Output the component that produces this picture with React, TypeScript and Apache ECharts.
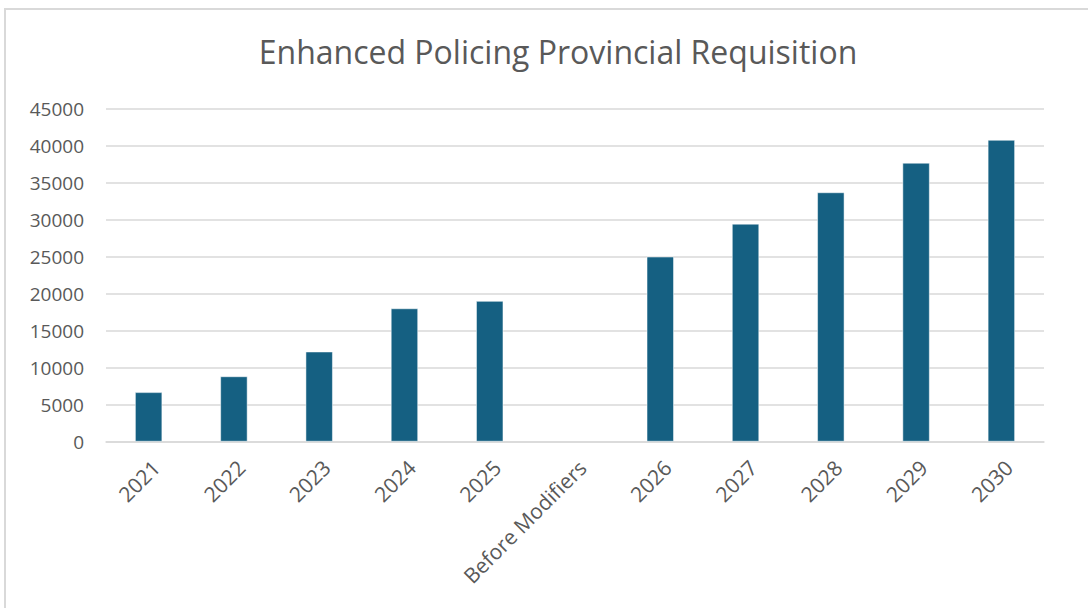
import React, { useEffect, useRef } from "react";
import * as echarts from "echarts";

const titleText = "Enhanced Policing Provincial Requisition";
const categories = ["2021", "2022", "2023", "2024", "2025", "Before Modifiers", "2026", "2027", "2028", "2029", "2030"];
const values: (number | null)[] = [6650, 8800, 12150, 18000, 19000, null, 25000, 29450, 33700, 37700, 40800];
const yMin = 0;
const yMax = 45000;
const yStep = 5000;

export default function App() {
  const ref = useRef<HTMLDivElement>(null);
  useEffect(() => {
    if (!ref.current) return;
    const chart = echarts.init(ref.current, null, { renderer: "svg" });
    chart.setOption({
      animation: false,
      backgroundColor: "#ffffff",
      title: {
        text: titleText,
        left: 553,
        top: 30,
        textAlign: "center",
        textStyle: { fontFamily: "Open Sans", fontSize: 32, fontWeight: "normal", color: "#595959" },
      },
      graphic: [
        {
          type: "rect",
          shape: { x: 5, y: 9, width: 1200, height: 700 },
          style: { fill: "none", stroke: "#d9d9d9", lineWidth: 2 },
          silent: true,
        },
      ],
      grid: { left: 106, right: 44, top: 109, bottom: 166.5 },
      xAxis: {
        type: "category",
        data: categories,
        axisLine: { show: true, lineStyle: { color: "#d9d9d9", width: 1.5 } },
        axisTick: { show: false },
        axisLabel: {
          rotate: 45,
          interval: 0,
          margin: 15,
          verticalAlign: "top",
          fontFamily: "Open Sans",
          fontSize: 21,
          color: "#595959",
        },
      },
      yAxis: {
        type: "value",
        min: yMin,
        max: yMax,
        interval: yStep,
        axisLine: { show: false },
        axisTick: { show: false },
        splitLine: { lineStyle: { color: "#d9d9d9", width: 1.5 } },
        axisLabel: {
          fontFamily: "Open Sans",
          fontSize: 19,
          color: "#595959",
          margin: 22,
          formatter: (v: number) => String(v),
        },
      },
      series: [
        {
          type: "bar",
          data: values,
          barWidth: 27,
          itemStyle: { color: "#156082", borderColor: "#ffffff", borderWidth: 0.5 },
        },
      ],
    });
    return () => chart.dispose();
  }, []);
  return <div ref={ref} style={{ position: "fixed", left: 0, top: 0, width: 1088, height: 608 }} />;
}
